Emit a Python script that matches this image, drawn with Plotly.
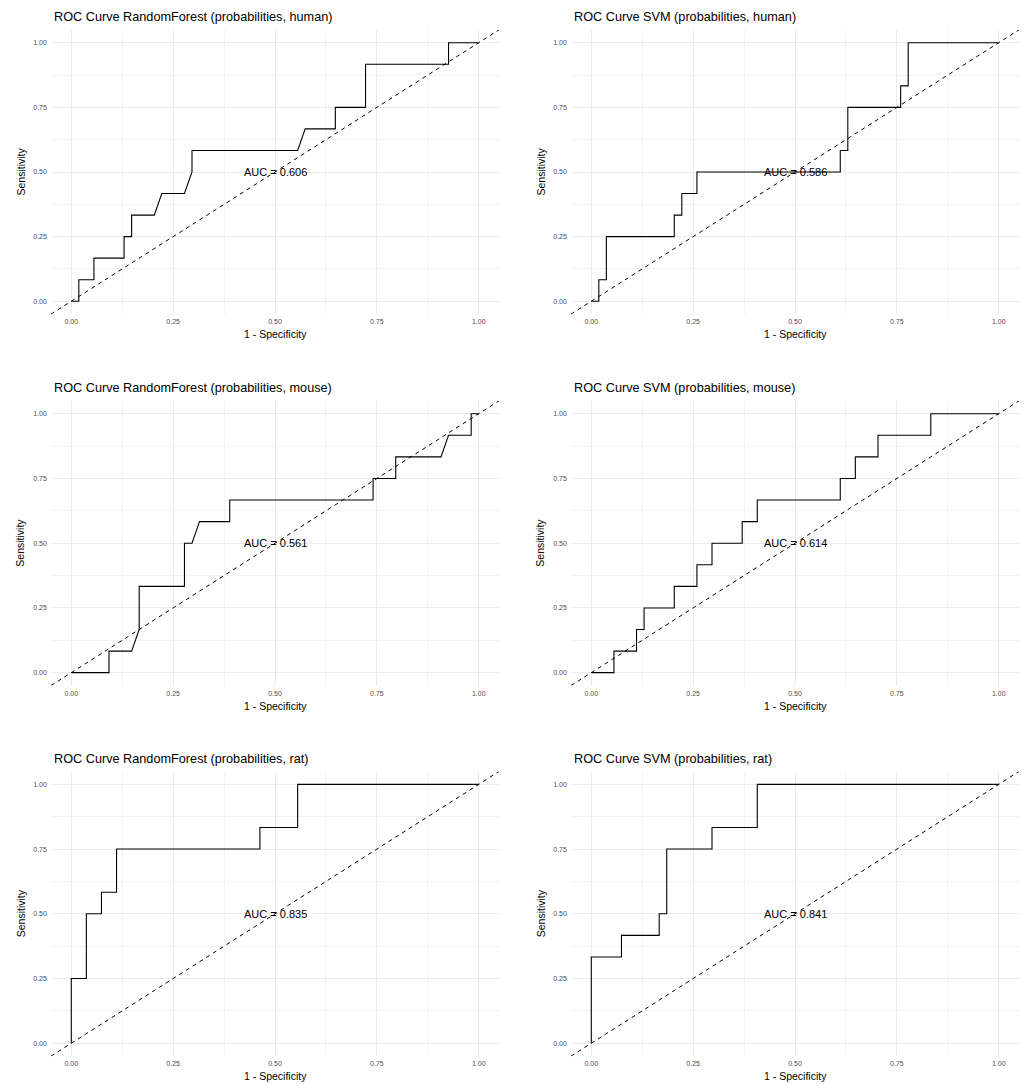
import numpy as np
import plotly.graph_objects as go

# ---- ROC curve vertices (1 - specificity, sensitivity) per model / species ----
rf_human_fpr = [0, 0.0185, 0.0185, 0.0556, 0.0556, 0.1296, 0.1296, 0.1481, 0.1481, 0.2037,
                0.2222, 0.2778, 0.2963, 0.2963, 0.5556, 0.5741, 0.6481, 0.6481, 0.7222,
                0.7222, 0.9259, 0.9259, 1]
rf_human_tpr = [0, 0, 0.0833, 0.0833, 0.1667, 0.1667, 0.25, 0.25, 0.3333, 0.3333,
                0.4167, 0.4167, 0.5, 0.5833, 0.5833, 0.6667, 0.6667, 0.75, 0.75,
                0.9167, 0.9167, 1, 1]

svm_human_fpr = [0, 0.0185, 0.0185, 0.0370, 0.0370, 0.2037, 0.2037, 0.2222, 0.2222, 0.2593,
                 0.2593, 0.6111, 0.6111, 0.6296, 0.6296, 0.7593, 0.7593, 0.7778, 0.7778, 1]
svm_human_tpr = [0, 0, 0.0833, 0.0833, 0.25, 0.25, 0.3333, 0.3333, 0.4167, 0.4167,
                 0.5, 0.5, 0.5833, 0.5833, 0.75, 0.75, 0.8333, 0.8333, 1, 1]

rf_mouse_fpr = [0, 0.0926, 0.0926, 0.1481, 0.1667, 0.1667, 0.2778, 0.2778, 0.2963, 0.3148,
                0.3889, 0.3889, 0.7407, 0.7407, 0.7963, 0.7963, 0.9074, 0.9259, 0.9815,
                0.9815, 1]
rf_mouse_tpr = [0, 0, 0.0833, 0.0833, 0.1667, 0.3333, 0.3333, 0.5, 0.5, 0.5833,
                0.5833, 0.6667, 0.6667, 0.75, 0.75, 0.8333, 0.8333, 0.9167, 0.9167,
                1, 1]

svm_mouse_fpr = [0, 0.0556, 0.0556, 0.1111, 0.1111, 0.1296, 0.1296, 0.2037, 0.2037, 0.2593,
                 0.2593, 0.2963, 0.2963, 0.3704, 0.3704, 0.4074, 0.4074, 0.6111, 0.6111,
                 0.6481, 0.6481, 0.7037, 0.7037, 0.8333, 0.8333, 1]
svm_mouse_tpr = [0, 0, 0.0833, 0.0833, 0.1667, 0.1667, 0.25, 0.25, 0.3333, 0.3333,
                 0.4167, 0.4167, 0.5, 0.5, 0.5833, 0.5833, 0.6667, 0.6667, 0.75,
                 0.75, 0.8333, 0.8333, 0.9167, 0.9167, 1, 1]

rf_rat_fpr = [0, 0, 0.0370, 0.0370, 0.0741, 0.0741, 0.1111, 0.1111, 0.4630, 0.4630,
              0.5556, 0.5556, 1]
rf_rat_tpr = [0, 0.25, 0.25, 0.5, 0.5, 0.5833, 0.5833, 0.75, 0.75, 0.8333,
              0.8333, 1, 1]

svm_rat_fpr = [0, 0, 0.0741, 0.0741, 0.1667, 0.1667, 0.1852, 0.1852, 0.2963, 0.2963,
               0.4074, 0.4074, 1]
svm_rat_tpr = [0, 0.3333, 0.3333, 0.4167, 0.4167, 0.5, 0.5, 0.75, 0.75, 0.8333,
               0.8333, 1, 1]

panel_titles = [
    "ROC Curve RandomForest (probabilities, human)",
    "ROC Curve SVM (probabilities, human)",
    "ROC Curve RandomForest (probabilities, mouse)",
    "ROC Curve SVM (probabilities, mouse)",
    "ROC Curve RandomForest (probabilities, rat)",
    "ROC Curve SVM (probabilities, rat)",
]
curves = [
    (rf_human_fpr, rf_human_tpr),
    (svm_human_fpr, svm_human_tpr),
    (rf_mouse_fpr, rf_mouse_tpr),
    (svm_mouse_fpr, svm_mouse_tpr),
    (rf_rat_fpr, rf_rat_tpr),
    (svm_rat_fpr, svm_rat_tpr),
]
tick_vals = [0, 0.25, 0.5, 0.75, 1.0]
tick_text = ["0.00", "0.25", "0.50", "0.75", "1.00"]

# ---- page geometry (pixels) ----
W, H = 1026, 1084
col_px = [(50.9, 499.1), (570.9, 1019.1)]        # panel left/right edges
row_px = [(29.8, 314.2), (400.8, 685.6), (771.4, 1056.2)]  # panel top/bottom edges
FONT = "Liberation Sans, Arial, Helvetica, sans-serif"

fig = go.Figure()
layout = dict(
    width=W, height=H,
    margin=dict(l=0, r=0, t=0, b=0),
    paper_bgcolor="white", plot_bgcolor="white",
    showlegend=False,
    font=dict(family=FONT, color="black"),
)
annotations = []
shapes = []

for i, (title, (fpr, tpr)) in enumerate(zip(panel_titles, curves)):
    r, c = divmod(i, 2)
    n = i + 1
    xa = "x" if n == 1 else f"x{n}"
    ya = "y" if n == 1 else f"y{n}"
    x0p, x1p = col_px[c]
    y0p, y1p = row_px[r]

    axis_common = dict(
        range=[-0.05, 1.05], tickvals=tick_vals, ticktext=tick_text,
        showgrid=True, gridcolor="#ebebeb", gridwidth=1,
        minor=dict(dtick=0.125, tick0=0, showgrid=True, gridcolor="#f3f3f3", gridwidth=1),
        zeroline=False, showline=False, ticks="",
        tickfont=dict(family=FONT, size=7, color="#4d4d4d"),
        fixedrange=True,
    )
    layout["xaxis" if n == 1 else f"xaxis{n}"] = dict(
        axis_common, domain=[x0p / W, x1p / W], anchor=ya, ticklabelstandoff=2)
    layout["yaxis" if n == 1 else f"yaxis{n}"] = dict(
        axis_common, domain=[1 - y1p / H, 1 - y0p / H], anchor=xa, ticklabelstandoff=3)

    # step-shaped ROC curve
    fig.add_trace(go.Scatter(
        x=fpr, y=tpr, mode="lines", xaxis=xa, yaxis=ya,
        line=dict(color="black", width=1.1), hoverinfo="skip",
    ))

    # chance diagonal across the whole panel
    shapes.append(dict(
        type="line", xref=xa, yref=ya, x0=-0.05, y0=-0.05, x1=1.05, y1=1.05,
        line=dict(color="black", width=1, dash="4px,4px"), layer="above",
    ))

    # area under the curve from the same vertices
    auc = float(np.trapezoid(tpr, fpr))
    annotations.append(dict(
        x=0.5, y=0.5, xref=xa, yref=ya, text=f"AUC = {auc:.3f}",
        showarrow=False, xanchor="center", yanchor="middle",
        font=dict(family=FONT, size=11, color="black"),
    ))

    # panel title
    annotations.append(dict(
        x=x0p / W, y=1 - (y0p - 12.7) / H, xref="paper", yref="paper",
        text=title, showarrow=False, xanchor="left", yanchor="middle", xshift=0.8,
        font=dict(family=FONT, size=12.7, color="black"),
    ))
    # x-axis title
    annotations.append(dict(
        x=(x0p + x1p) / 2 / W, y=1 - (y1p + 20) / H, xref="paper", yref="paper",
        text="1 - Specificity", showarrow=False, xanchor="center", yanchor="middle",
        font=dict(family=FONT, size=10.5, color="black"),
    ))
    # y-axis title
    annotations.append(dict(
        x=(x0p - 30.4) / W, y=1 - (y0p + y1p) / 2 / H, xref="paper", yref="paper",
        text="Sensitivity", showarrow=False, textangle=-90,
        xanchor="center", yanchor="middle",
        font=dict(family=FONT, size=10.5, color="black"),
    ))

layout["annotations"] = annotations
layout["shapes"] = shapes
fig.update_layout(**layout)
fig.write_html("out.html")
